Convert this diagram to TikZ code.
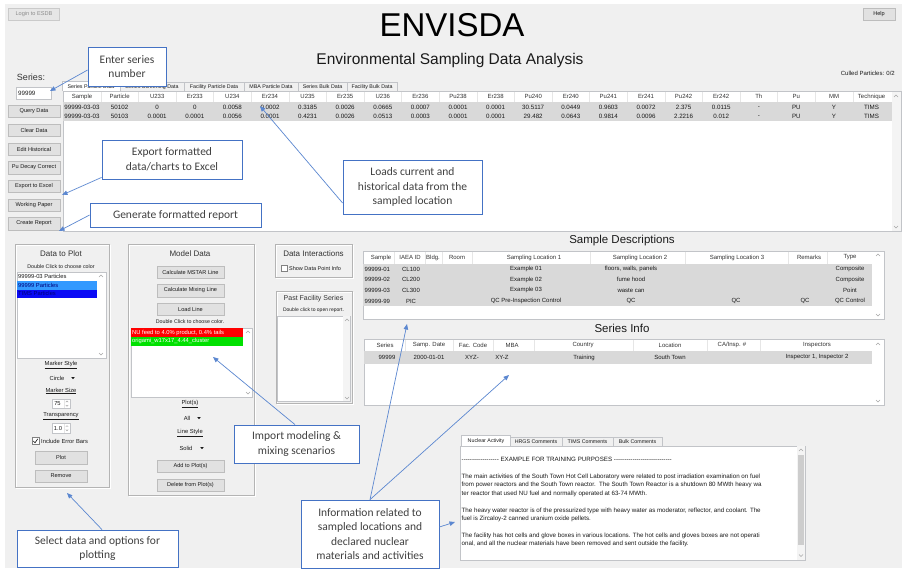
\documentclass[tikz,border=0pt]{standalone}
\usepackage{fontspec}
\setmainfont{Liberation Sans}
\newfontfamily\callfont{Carlito}
\usetikzlibrary{arrows.meta}

\definecolor{winbg}{HTML}{F0F0F0}
\definecolor{btnfill}{HTML}{E1E1E1}
\definecolor{btnline}{HTML}{BDBDBD}
\definecolor{rowgray}{HTML}{D9D9D9}
\definecolor{gridline}{HTML}{E6E6E6}
\definecolor{frameline}{HTML}{B4B4B4}
\definecolor{boxline}{HTML}{C2C4C8}
\definecolor{callblue}{HTML}{4472C4}
\definecolor{arrowblue}{HTML}{5B87D0}
\definecolor{txt}{HTML}{1A1A1A}
\definecolor{hdrtxt}{HTML}{333333}
\definecolor{notetxt}{HTML}{404040}
\definecolor{dimtxt}{HTML}{8C8C8C}
\definecolor{chevgray}{HTML}{A6A6A6}
\definecolor{selblue}{HTML}{3399FF}
\definecolor{deepblue}{HTML}{0A0AF5}
\definecolor{navytxt}{HTML}{00007A}
\definecolor{itemred}{HTML}{FF0000}
\definecolor{itemgreen}{HTML}{00E000}
\definecolor{thumb}{HTML}{CDCDCD}
\definecolor{scrollbg}{HTML}{F4F4F4}

\newcommand\setfs[2]{\fontsize{#1}{#2}\selectfont}
\newcommand\dashrun[1]{\foreach \n in {1,...,#1}{-\kern0pt}}

\tikzset{
  btn/.style={draw=btnline, fill=btnfill, inner sep=0pt, font=\setfs{5.6}{7}, text=txt},
  ui/.style={inner sep=0pt, font=\setfs{5.8}{7}, text=txt},
  tcell/.style={inner sep=0pt, font=\setfs{6.2}{7}, text=txt},
  hcell/.style={inner sep=0pt, font=\setfs{6}{7}, text=hdrtxt},
  tabtxt/.style={inner sep=0pt, font=\setfs{5.3}{6}, text=txt},
  grptitle/.style={inner sep=0pt, font=\setfs{8}{9}, text=hdrtxt},
  secttitle/.style={inner sep=0pt, font=\setfs{11.5}{13}, text=txt},
  nuctxt/.style={inner sep=0pt, anchor=west, font=\setfs{6.2}{7}, text=txt},
  grpA/.style={draw=frameline, line width=0.6pt},
  grpB/.style={draw=white, line width=0.6pt},
  field/.style={draw=boxline, fill=white, line width=0.6pt},
  sepline/.style={draw=gridline, line width=0.5pt},
  chev/.style={draw=chevgray, line width=0.5pt},
  notebox/.style={draw=callblue, fill=white, line width=0.8pt, inner sep=0pt,
    align=center, font=\callfont\setfs{11.5}{14.5}, text=notetxt},
  callarrow/.style={draw=arrowblue, line width=0.7pt,
    -{Triangle[length=5.5pt,width=4.5pt]}},
  chevup/.pic={\draw[chev] (-2,1) -- (0,-1) -- (2,1);},
  chevdn/.pic={\draw[chev] (-2,-1) -- (0,1) -- (2,-1);},
  ddtri/.pic={\fill[txt] (-1.8,-0.9) -- (1.8,-0.9) -- (0,1.1) -- cycle;},
}

\begin{document}
\begin{tikzpicture}[x=1pt,y=-1pt]
\useasboundingbox (0,0) rectangle (904,578);
\fill[white] (0,0) rectangle (904,578);
\fill[winbg] (5,4) rectangle (902,568);

% ---------------- window header ----------------
\node[btn, minimum width=51pt, minimum height=12pt, text=dimtxt, fill=btnfill!70!winbg, draw=btnline!80]
  (login) at (34,14.5) {Login to ESDB};
\node[btn, minimum width=32pt, minimum height=12pt] (help) at (879,14.5) {Help};
\node[inner sep=0pt, font=\setfs{33}{36}, text=black] (title) at (452,25) {ENVISDA};
\node[inner sep=0pt, font=\setfs{15.5}{18}, text=txt] (subtitle) at (450,60)
  {Environmental Sampling Data Analysis};
\node[ui, anchor=east, font=\setfs{6}{7}] (culled) at (895,73) {Culled Particles: 0/2};
\node[inner sep=0pt, font=\setfs{9}{10}, text=hdrtxt] (serieslbl) at (31,77) {Series:};
\node[field, minimum width=35pt, minimum height=12pt, inner sep=0pt] (seriesbox) at (33.5,93) {};
\node[tcell, anchor=west] (seriesval) at (18,93) {99999};

% ---------------- command buttons ----------------
\foreach \y/\t [count=\k] in {111/Query Data,130/Clear Data,149/Edit Historical,
    167.5/Pu Decay Correct,186/Export to Excel,205/Working Paper,223.5/Create Report}
  \node[btn, minimum width=52pt, minimum height=12.5pt] (lb\k) at (34,\y) {\t};

% ---------------- particle data tabs ----------------
\foreach \a/\b/\t in {120/184/Series Screening Data,184/244/Facility Particle Data,
    244/298/MBA Particle Data,298/347/Series Bulk Data,347/397/Facility Bulk Data}{
  \draw[draw=boxline, fill=winbg] (\a,82.5) rectangle (\b,91);
  \node[tabtxt] at ({(\a+\b)/2},87) {\t};
}
\draw[field] (63,91) rectangle (901,231);
\draw[boxline, fill=white] (62,91) -- (62,81.5) -- (120,81.5) -- (120,91);
\node[tabtxt] (tabactive) at (91,86.5) {Series Particle Data};
\fill[scrollbg] (892,91.6) rectangle (900.6,230.6);
\pic at (896,96) {chevup};
\pic at (896,227) {chevdn};

% particle table
\fill[rowgray] (63.4,102) rectangle (892,121);
\foreach \i in {0,...,20}
  \draw[sepline] ({100.8+37.6*\i},91.6) -- ({100.8+37.6*\i},102);
\foreach \t [count=\i from 0] in {Sample,Particle,U233,Er233,U234,Er234,U235,Er235,U236,
    Er236,Pu238,Er238,Pu240,Er240,Pu241,Er241,Pu242,Er242,Th,Pu,MM,Technique}
  \node[hcell] at ({82+37.6*\i},96.8) {\t};
\foreach \t [count=\i from 0] in {99999-03-03,50102,0,0,0.0058,0.0002,0.3185,0.0026,0.0665,
    0.0007,0.0001,0.0001,30.5117,0.0449,0.9603,0.0072,2.375,0.0115,-,PU,Y,TIMS}
  \node[tcell] at ({82+37.6*\i},107.5) {\t};
\foreach \t [count=\i from 0] in {99999-03-03,50103,0.0001,0.0001,0.0056,0.0001,0.4231,0.0026,
    0.0513,0.0003,0.0001,0.0001,29.482,0.0643,0.9814,0.0096,2.2216,0.012,-,PU,Y,TIMS}
  \node[tcell] at ({82+37.6*\i},116.5) {\t};

% ---------------- Data to Plot ----------------
\draw[grpB] (16,245) rectangle (110,488);
\draw[grpA] (15,244) rectangle (109,487);
\node[grptitle] (dtptitle) at (61,254) {Data to Plot};
\node[ui, font=\setfs{5.3}{6}] at (61,267) {Double Click to choose color};
\draw[field] (17,272) rectangle (106,358);
\fill[selblue] (17.4,281) rectangle (97,289.5);
\fill[deepblue] (17.4,289.5) rectangle (97,298);
\node[tcell, anchor=west, font=\setfs{5.8}{7}] at (18,276.7) {99999-03 Particles};
\node[tcell, anchor=west, font=\setfs{5.8}{7}, text=navytxt] at (18,285.2) {99999 Particles};
\node[tcell, anchor=west, font=\setfs{5.8}{7}, text=navytxt] at (18,293.7) {TIMS Particles};
\pic at (101,276) {chevup};
\pic at (101,354) {chevdn};
\node[ui] at (61,365) {\underline{Marker Style}};
\node[ui] (mstyle) at (57,378) {Circle};
\pic at (73,378) {ddtri};
\node[ui] at (61,391) {\underline{Marker Size}};
\draw[field] (52,399) rectangle (70,408);
\draw[sepline] (64,399.5) -- (64,407.5);
\node[ui] (msize) at (57.5,403.5) {75};
\pic[scale=0.6] at (67,401.6) {chevup};
\pic[scale=0.6] at (67,405.6) {chevdn};
\node[ui] at (61,416) {\underline{Transparency}};
\draw[field] (52,423.5) rectangle (70,433);
\draw[sepline] (64,424) -- (64,432.5);
\node[ui] (mtrans) at (58,428.3) {1.0};
\pic[scale=0.6] at (67,426.2) {chevup};
\pic[scale=0.6] at (67,430.2) {chevdn};
\draw[field, draw=txt!55] (32,437.5) rectangle (39,444.5);
\draw[txt, line width=0.6pt] (33.4,441) -- (35,442.8) -- (37.8,438.8);
\node[ui, anchor=west] (errbars) at (41,441) {Include Error Bars};
\node[btn, minimum width=52pt, minimum height=12.5pt] (plotbtn) at (61,457.5) {Plot};
\node[btn, minimum width=52pt, minimum height=12.5pt] (removebtn) at (61,476) {Remove};

% ---------------- Model Data ----------------
\draw[grpB] (129,245) rectangle (255,496);
\draw[grpA] (128,244) rectangle (254,495);
\node[grptitle] (mdtitle) at (190,254) {Model Data};
\node[btn, minimum width=67pt, minimum height=12pt] (mstar) at (190.5,272) {Calculate MSTAR Line};
\node[btn, minimum width=67pt, minimum height=12.5pt] (mixing) at (190.5,290.5) {Calculate Mixing Line};
\node[btn, minimum width=67pt, minimum height=12pt] (loadline) at (190.5,309) {Load Line};
\node[ui, font=\setfs{5.3}{6}] at (190,322) {Double Click to choose color.};
\draw[field] (131,328) rectangle (252,397);
\fill[itemred] (131.4,328.4) rectangle (243,337);
\fill[itemgreen] (131.4,337) rectangle (243,345.5);
\node[tcell, anchor=west, font=\setfs{5.8}{7}, text=white] at (132,332.7) {NU feed to 4.0\% product, 0.4\% tails};
\node[tcell, anchor=west, font=\setfs{5.8}{7}, text=white] at (132,341.2) {origami\_w17x17\_4.44\_cluster};
\pic at (248,332) {chevup};
\pic at (248,393) {chevdn};
\node[ui] at (190,404) {\underline{Plot(s)}};
\node[ui] (plotsel) at (187,418) {All};
\pic at (199,418) {ddtri};
\node[ui] at (190,433) {\underline{Line Style}};
\node[ui] (linesel) at (186,448) {Solid};
\pic at (202,448) {ddtri};
\node[btn, minimum width=67pt, minimum height=12pt] (addplot) at (190.5,466) {Add to Plot(s)};
\node[btn, minimum width=67pt, minimum height=12pt] (delplot) at (190.5,485) {Delete from Plot(s)};

% ---------------- Data Interactions ----------------
\draw[grpB] (276,245) rectangle (353,278);
\draw[grpA] (275,244) rectangle (352,277);
\node[grptitle] (dititle) at (313.5,254) {Data Interactions};
\draw[field, draw=txt!55] (281,265.5) rectangle (287,271.5);
\node[ui, anchor=west, font=\setfs{5.5}{7}] (showinfo) at (289,268.5) {Show Data Point Info};

% ---------------- Past Facility Series ----------------
\draw[grpB] (277,292) rectangle (353,404);
\draw[grpA] (276,291) rectangle (352,403);
\node[grptitle, font=\setfs{7}{8}] (pfstitle) at (313.5,299) {Past Facility Series};
\node[ui, font=\setfs{5}{6}] at (313.5,310) {Double click to open report.};
\draw[field] (277.5,316) rectangle (350.5,401.5);
\fill[scrollbg] (342.5,316.4) rectangle (350.1,401.1);
\pic at (347,320) {chevup};
\pic at (347,398) {chevdn};

% ---------------- Sample Descriptions ----------------
\node[secttitle] (sdtitle) at (622,241) {Sample Descriptions};
\draw[field] (363,251) rectangle (884,319);
\fill[rowgray] (363.4,264) rectangle (872,306);
\foreach \x in {394,425,442,472,590,685,788,827}
  \draw[sepline] (\x,251.5) -- (\x,264);
\foreach \x/\t in {381/Sample,410/IAEA ID,433/Bldg.,457/Room,534/Sampling Location 1,
    640/Sampling Location 2,737/Sampling Location 3,809/Remarks,850/Type}
  \node[hcell] at (\x,257.5) {\t};
\foreach \y/\s/\c in {269/99999-01/CL100,279.7/99999-02/CL200,290.3/99999-03/CL300,301/99999-99/PIC}{
  \node[tcell, anchor=west, font=\setfs{6}{7}] at (364.5,\y) {\s};
  \node[tcell, font=\setfs{6}{7}] at (411,\y) {\c};
}
\begin{scope}[every node/.style={tcell, font=\setfs{6}{7}}]
\node at (526,269) {Example 01};
\node at (631,269) {floors, walls, panels};
\node at (850,269) {Composite};
\node at (526,279.7) {Example 02};
\node at (631,279.7) {fume hood};
\node at (850,279.7) {Composite};
\node at (526,290.3) {Example 03};
\node at (631,290.3) {waste can};
\node at (850,290.3) {Point};
\node at (526,301) {QC Pre-Inspection Control};
\node at (631,301) {QC};
\node at (736,301) {QC};
\node at (805,301) {QC};
\node at (850,301) {QC Control};
\end{scope}
\pic at (878,255) {chevup};
\pic at (878,315) {chevdn};

% ---------------- Series Info ----------------
\node[secttitle] (sititle) at (622,328) {Series Info};
\draw[field] (364,339) rectangle (884,405);
\fill[rowgray] (364.4,351) rectangle (872,364);
\foreach \x in {405,453,493,534,633,707,760}
  \draw[sepline] (\x,339.5) -- (\x,351);
\foreach \x/\t in {385/Series,429/Samp. Date,473/Fac. Code,512/MBA,583/Country,670/Location,817/Inspectors}
  \node[hcell] at (\x,345.3) {\t};
\node[hcell] at (732,345.3) {CA/Insp. \#};
\begin{scope}[every node/.style={tcell, font=\setfs{6}{7}}]
\node at (387,357.5) {99999};
\node at (429,357.5) {2000-01-01};
\node at (472,357.5) {XYZ-};
\node at (502,357.5) {XY-Z};
\node at (584,357.5) {Training};
\node at (670,357.5) {South Town};
\node at (817,357.5) {Inspector 1, Inspector 2};
\end{scope}
\pic at (878,344) {chevup};
\pic at (878,401) {chevdn};

% ---------------- Nuclear Activity comments ----------------
\foreach \a/\b/\t in {510/562/HRGS Comments,562/613/TIMS Comments,613/662/Bulk Comments}{
  \draw[draw=boxline, fill=winbg] (\a,437.5) rectangle (\b,446);
  \node[tabtxt] at ({(\a+\b)/2},441.8) {\t};
}
\draw[field] (460,446) rectangle (805,560);
\draw[boxline, fill=white] (461.5,446) -- (461.5,435.5) -- (510,435.5) -- (510,446);
\node[tabtxt] (nuctab) at (486,441) {Nuclear Activity};
\fill[scrollbg] (797,446.4) rectangle (804.6,559.6);
\fill[thumb] (797.8,455) rectangle (803.8,545);
\pic at (801,450) {chevup};
\pic at (801,555.5) {chevdn};
\node[nuctxt] at (461.5,459) {\dashrun{18} EXAMPLE FOR TRAINING PURPOSES \dashrun{28}};
\node[nuctxt] at (461.5,477) {The main activities of the South Town Hot Cell Laboratory were related to post irradiation examination on fuel};
\node[nuctxt] at (461.5,485.3) {from power reactors and the South Town reactor.\ \ The South Town Reactor is a shutdown 80 MWth heavy wa};
\node[nuctxt] at (461.5,493.5) {ter reactor that used NU fuel and normally operated at 63-74 MWth.};
\node[nuctxt] at (461.5,511) {The heavy water reactor is of the pressurized type with heavy water as moderator, reflector, and coolant. The};
\node[nuctxt] at (461.5,519.3) {fuel is Zircaloy-2 canned uranium oxide pellets.};
\node[nuctxt] at (461.5,536) {The facility has hot cells and glove boxes in various locations. The hot cells and gloves boxes are not operati};
\node[nuctxt] at (461.5,544.3) {onal, and all the nuclear materials have been removed and sent outside the facility.};

% ---------------- explanatory notes ----------------
\node[notebox, minimum width=78pt, minimum height=39pt] (cSeries) at (127,66.5) {Enter series\\number};
\node[notebox, minimum width=140pt, minimum height=39pt] (cExport) at (172,159.5) {Export formatted\\data/charts to Excel};
\node[notebox, minimum width=171pt, minimum height=24pt] (cReport) at (175.5,215) {Generate formatted report};
\node[notebox, minimum width=139pt, minimum height=54pt] (cLoads) at (412.5,187) {Loads current and\\historical data from the\\sampled location};
\node[notebox, minimum width=125pt, minimum height=38pt] (cImport) at (296.5,444) {Import modeling \&\\mixing scenarios};
\node[notebox, minimum width=138pt, minimum height=68pt] (cInfo) at (370,534) {Information related to\\sampled locations and\\declared nuclear\\materials and activities};
\node[notebox, minimum width=161pt, minimum height=37pt] (cSelect) at (97.5,548.5) {Select data and options for\\plotting};

\coordinate (tSeries) at (50,91);
\coordinate (tExport) at (62,195);
\coordinate (tReport) at (59,231);
\coordinate (tLoads) at (260,106);
\coordinate (tImport) at (213,357);
\coordinate (tDesc) at (407,324);
\coordinate (tSerInfo) at (509,375);
\coordinate (tNuc) at (455,522);
\coordinate (tSelect) at (67,493);

\draw[callarrow] ([yshift=-3.5pt]cSeries.west) -- (tSeries);
\draw[callarrow] ([yshift=2pt]cExport.south west) -- (tExport);
\draw[callarrow] (cReport.west) -- (tReport);
\draw[callarrow] ([yshift=-16pt]cLoads.west) -- (tLoads);
\draw[callarrow] ([xshift=-1.5pt]cImport.north) -- (tImport);
\draw[callarrow] (cInfo.north) -- (tDesc);
\draw[callarrow] (cInfo.north) -- (tSerInfo);
\draw[callarrow] ([yshift=7pt]cInfo.east) -- (tNuc);
\draw[callarrow] ([xshift=4.5pt]cSelect.north) -- (tSelect);
\end{tikzpicture}
\end{document}
